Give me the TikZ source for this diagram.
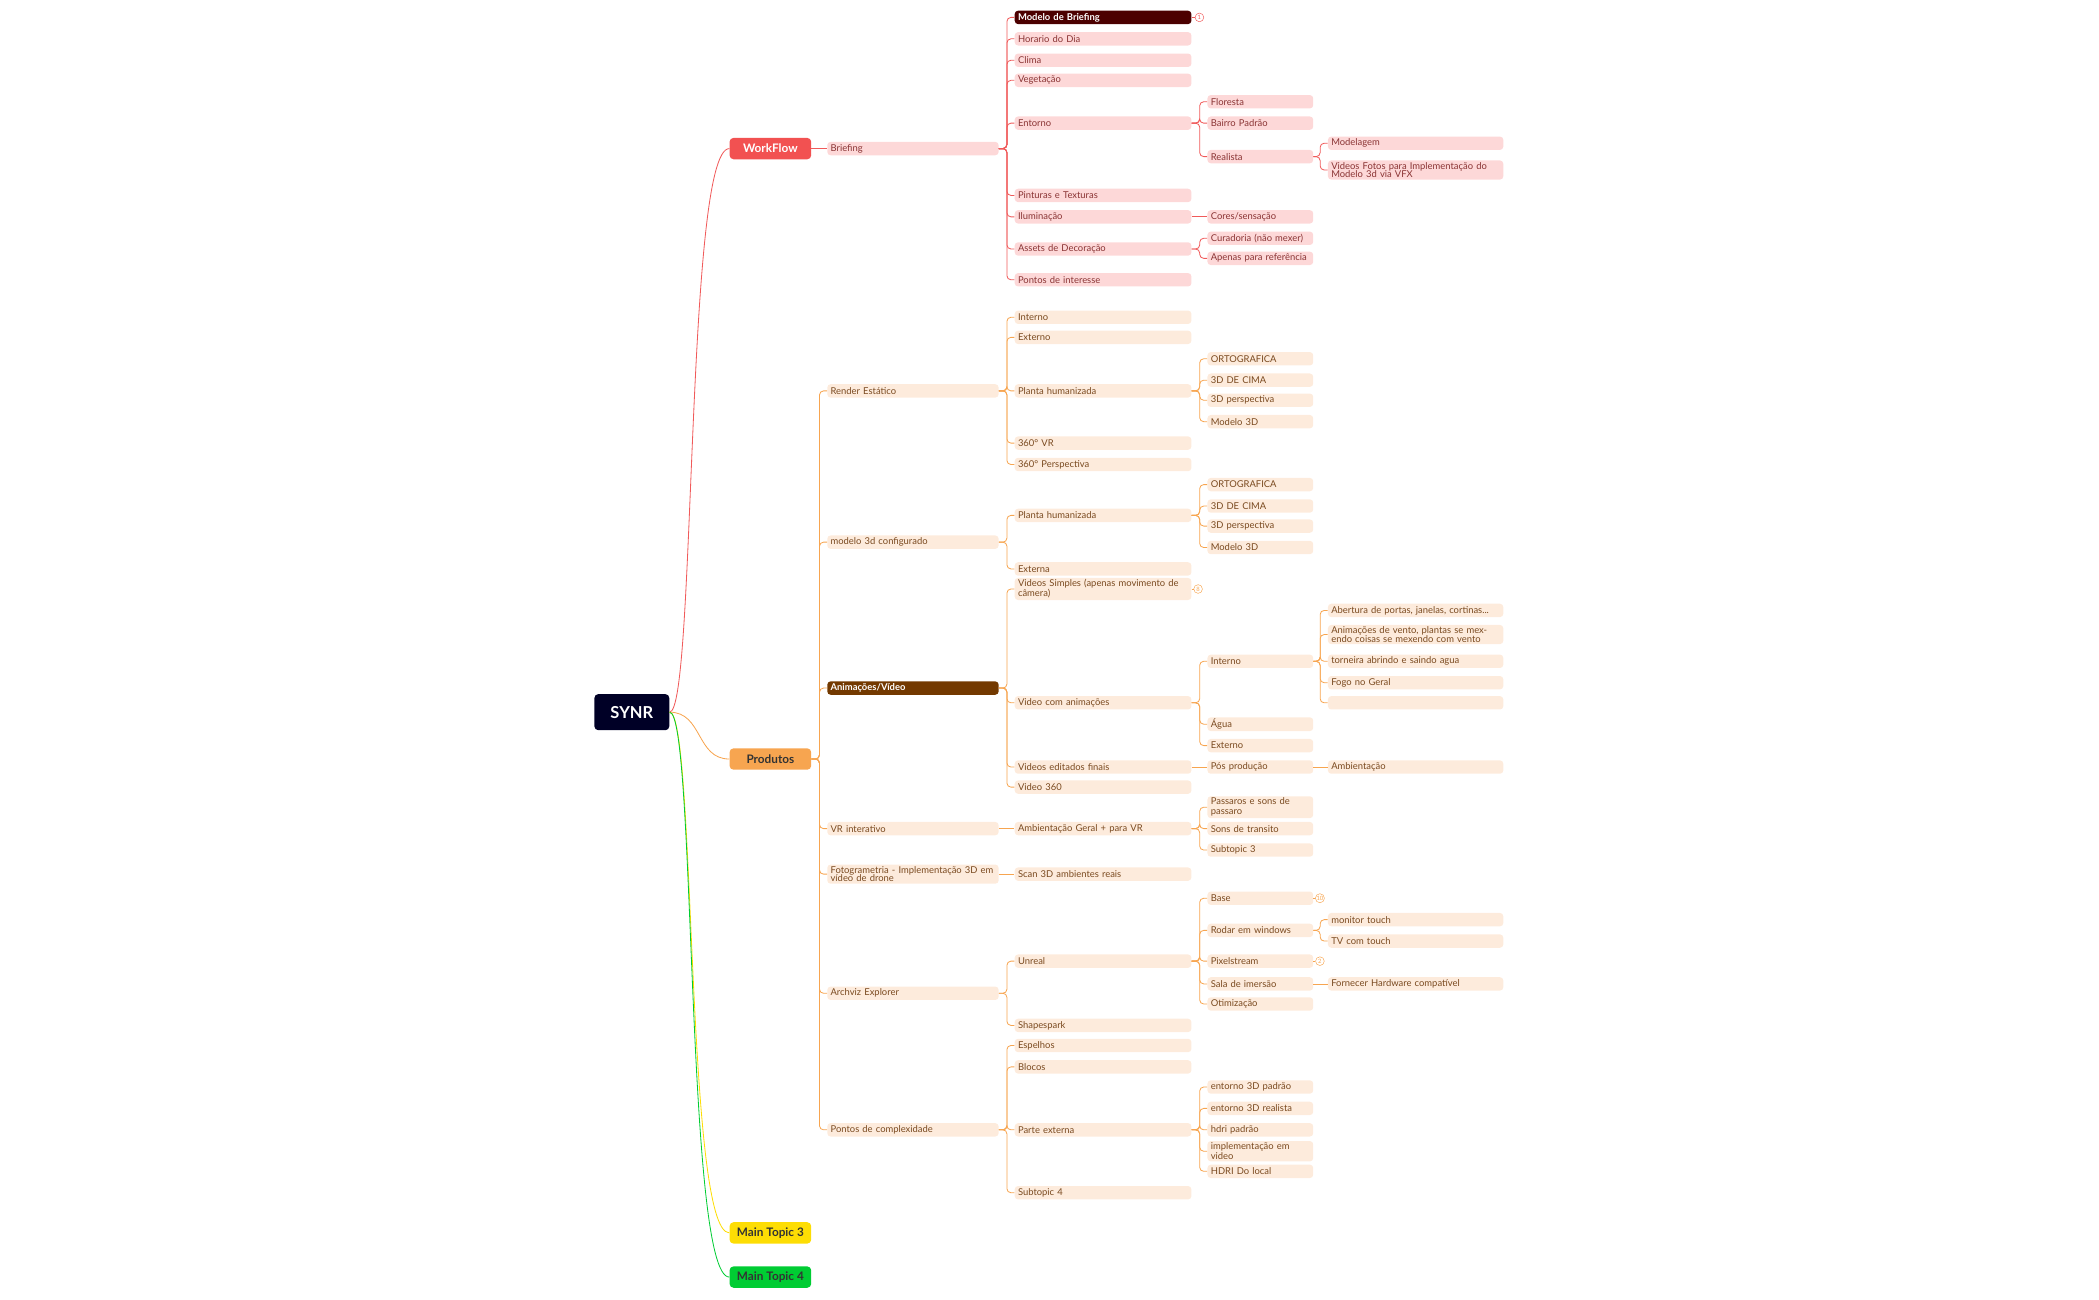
\documentclass[tikz,border=0pt]{standalone}
\usepackage{fontspec}
\setmainfont{Lato}
\definecolor{pinkf}{HTML}{FDD8D8}
\definecolor{redl}{HTML}{F05A5A}
\definecolor{redt}{HTML}{8A3434}
\definecolor{orgf}{HTML}{FDEBDC}
\definecolor{orgl}{HTML}{F7A550}
\definecolor{orgt}{HTML}{7A4A20}
\tikzset{
  box/.style={rounded corners=0.1cm, inner xsep=0.1cm, inner ysep=0.05cm, minimum height=0.4cm, align=left, font=\fontsize{8}{8.5}\selectfont},
  rb/.style={box, fill=pinkf, text=redt},
  ob/.style={box, fill=orgf, text=orgt},
  l2/.style={text width=4.92cm},
  l3/.style={text width=5.08cm},
  l4/.style={text width=2.96cm},
  l5/.style={text width=5.04cm},
  topic/.style={rounded corners=0.12cm, minimum width=2.44cm, minimum height=0.64cm, font=\fontsize{10}{11}\selectfont\bfseries},
  badge/.style={circle, draw, inner sep=0.3pt, minimum size=0.26cm, font=\fontsize{5}{5}\selectfont},
  rl/.style={draw=redl, line width=0.7pt, rounded corners=0.12cm},
  ol/.style={draw=orgl, line width=0.7pt, rounded corners=0.12cm},
}
\begin{document}
\begin{tikzpicture}[x=0.04cm, y=-0.04cm]
\useasboundingbox (0,0) rectangle (1568,971);
% main topics
\node[topic, fill=black!85!blue, text=white, minimum width=2.24cm, minimum height=1.08cm, font=\fontsize{14}{15}\selectfont\bfseries] (synr) at (472,532) {SYNR};
\node[topic, fill=redl!90!red, text=white] (work) at (575.5,111) {WorkFlow};
\node[topic, fill=orgl, text=black!80] (prod) at (575.5,567) {Produtos};
\node[topic, fill=yellow!80!orange, text=black!80] (mt3) at (575.5,921) {Main Topic 3};
\node[topic, fill=green!60!teal, text=black!80] (mt4) at (575.5,954) {Main Topic 4};
\draw[redl, line width=0.7pt] (synr.east) .. controls (520,532) and (512,111) .. (work.west);
\draw[orgl, line width=0.7pt] (synr.east) .. controls (525,532) and (520,567) .. (prod.west);
\draw[yellow!80!orange, line width=0.7pt] (synr.east) .. controls (520,532) and (512,921) .. (mt3.west);
\draw[green!60!teal, line width=0.7pt] (synr.east) .. controls (520,532) and (512,954) .. (mt4.west);

% WorkFlow branch
\node[rb, l2] (brief) at (682,111) {Briefing};
\node[rb, l3, fill=red!30!black, text=white, font=\fontsize{8}{8.5}\selectfont\bfseries] (modelo) at (824,13) {Modelo de Briefing};
\node[rb, l3] (hora) at (824,29) {Horario do Dia};
\node[rb, l3] (clima) at (824,45) {Clima};
\node[rb, l3] (veg) at (824,60) {Vegetação};
\node[rb, l3] (ent) at (824,92) {Entorno};
\node[rb, l3] (pint) at (824,146) {Pinturas e Texturas};
\node[rb, l3] (ilum) at (824,162) {Iluminação};
\node[rb, l3] (assets) at (824,186) {Assets de Decoração};
\node[rb, l3] (pontos) at (824,209) {Pontos de interesse};
\node[rb, l4] (flor) at (941.5,76) {Floresta};
\node[rb, l4] (bairro) at (941.5,92) {Bairro Padrão};
\node[rb, l4] (real) at (941.5,117) {Realista};
\node[rb, l4] (cores) at (941.5,162) {Cores/sensação};
\node[rb, l4] (cur) at (941.5,178) {Curadoria (não mexer)};
\node[rb, l4] (apen) at (941.5,193) {Apenas para referência};
\node[rb, l5] (modg) at (1057.5,107) {Modelagem};
\node[rb, l5, font=\fontsize{8}{7.5}\selectfont] (vfx) at (1057.5,127) {Videos Fotos para Implementação do Modelo 3d via VFX};
\node[badge, draw=redl, text=redl] (b1) at (896,13) {1};
\draw[rl] (work.east) -- (brief.west);
\draw[rl] (modelo.east) -- (b1.west);
\foreach \c in {modelo, hora, clima, veg, ent, pint, ilum, assets, pontos}
  \draw[rl] (brief.east) -- ++(6,0) |- (\c.west);
\foreach \c in {flor, bairro, real}
  \draw[rl] (ent.east) -- ++(6,0) |- (\c.west);
\foreach \c in {modg, vfx}
  \draw[rl] (real.east) -- ++(5,0) |- (\c.west);
\draw[rl] (ilum.east) -- (cores.west);
\foreach \c in {cur, apen}
  \draw[rl] (assets.east) -- ++(6,0) |- (\c.west);

% Produtos branch
\node[ob, l2] (render) at (682,292) {Render Estático};
\node[ob, l2] (mod3d) at (682,405) {modelo 3d configurado};
\node[ob, l2, fill=orange!45!black, text=white, font=\fontsize{8}{8.5}\selectfont\bfseries] (anim) at (682,514) {Animações/Vídeo};
\node[ob, l2] (vr) at (682,619) {VR interativo};
\node[ob, l2, font=\fontsize{8}{7.5}\selectfont] (foto) at (682,653) {Fotogrametria - Implementação 3D em vídeo de drone};
\node[ob, l2] (arch) at (682,742) {Archviz Explorer};
\node[ob, l2] (compl) at (682,844) {Pontos de complexidade};
\foreach \c in {render, mod3d, anim, vr, foto, arch, compl}
  \draw[ol] (prod.east) -- ++(6,0) |- (\c.west);

% Render Estatico
\node[ob, l3] (rint) at (824,237) {Interno};
\node[ob, l3] (rext) at (824,252) {Externo};
\node[ob, l3] (rplan) at (824,292) {Planta humanizada};
\node[ob, l3] (rvr) at (824,331) {360° VR};
\node[ob, l3] (rper) at (824,347) {360° Perspectiva};
\node[ob, l4] (po1) at (941.5,268) {ORTOGRAFICA};
\node[ob, l4] (po2) at (941.5,284) {3D DE CIMA};
\node[ob, l4] (po3) at (941.5,299) {3D perspectiva};
\node[ob, l4] (po4) at (941.5,315) {Modelo 3D};
\foreach \c in {rint, rext, rplan, rvr, rper}
  \draw[ol] (render.east) -- ++(6,0) |- (\c.west);
\foreach \c in {po1, po2, po3, po4}
  \draw[ol] (rplan.east) -- ++(6,0) |- (\c.west);

% modelo 3d configurado
\node[ob, l3] (mplan) at (824,385) {Planta humanizada};
\node[ob, l3] (mext) at (824,425) {Externa};
\node[ob, l4] (pm1) at (941.5,362) {ORTOGRAFICA};
\node[ob, l4] (pm2) at (941.5,378) {3D DE CIMA};
\node[ob, l4] (pm3) at (941.5,393) {3D perspectiva};
\node[ob, l4] (pm4) at (941.5,409) {Modelo 3D};
\foreach \c in {mplan, mext}
  \draw[ol] (mod3d.east) -- ++(6,0) |- (\c.west);
\foreach \c in {pm1, pm2, pm3, pm4}
  \draw[ol] (mplan.east) -- ++(6,0) |- (\c.west);

% Animacoes/Video
\node[ob, l3] (vsimp) at (824,440) {Videos Simples (apenas movimento de câmera)};
\node[ob, l3] (vanim) at (824,525) {Video com animações};
\node[ob, l3] (vedit) at (824,573) {Videos editados finais};
\node[ob, l3] (v360) at (824,588) {Video 360};
\node[badge, draw=orgl, text=orgl] (b8) at (895,440) {8};
\draw[ol] (vsimp.east) -- (b8.west);
\node[ob, l4] (aint) at (941.5,494) {Interno};
\node[ob, l4] (agua) at (941.5,541) {Água};
\node[ob, l4] (aext) at (941.5,557) {Externo};
\node[ob, l4] (pos) at (941.5,573) {Pós produção};
\node[ob, l5] (ab) at (1057.5,456) {Abertura de portas, janelas, cortinas...};
\node[ob, l5, font=\fontsize{8}{7.5}\selectfont] (vento) at (1057.5,474) {Animações de vento, plantas se mexendo coisas se mexendo com vento};
\node[ob, l5] (torn) at (1057.5,494) {torneira abrindo e saindo agua};
\node[ob, l5] (fogo) at (1057.5,510) {Fogo no Geral};
\node[ob, l5] (vazio) at (1057.5,525) {};
\node[ob, l5] (amb) at (1057.5,573) {Ambientação};
\foreach \c in {vsimp, vanim, vedit, v360}
  \draw[ol] (anim.east) -- ++(6,0) |- (\c.west);
\foreach \c in {aint, agua, aext}
  \draw[ol] (vanim.east) -- ++(6,0) |- (\c.west);
\foreach \c in {ab, vento, torn, fogo, vazio}
  \draw[ol] (aint.east) -- ++(5,0) |- (\c.west);
\draw[ol] (vedit.east) -- (pos.west);
\draw[ol] (pos.east) -- (amb.west);

% VR interativo
\node[ob, l3] (ambvr) at (824,619) {Ambientação Geral + para VR};
\node[ob, l4] (pass) at (941.5,603) {Passaros e sons de passaro};
\node[ob, l4] (sons) at (941.5,619) {Sons de transito};
\node[ob, l4] (sub3) at (941.5,635) {Subtopic 3};
\draw[ol] (vr.east) -- (ambvr.west);
\foreach \c in {pass, sons, sub3}
  \draw[ol] (ambvr.east) -- ++(6,0) |- (\c.west);

% Fotogrametria
\node[ob, l3] (scan) at (824,653) {Scan 3D ambientes reais};
\draw[ol] (foto.east) -- (scan.west);

% Archviz Explorer
\node[ob, l3] (unreal) at (824,718) {Unreal};
\node[ob, l3] (shape) at (824,766) {Shapespark};
\node[ob, l4] (base) at (941.5,671) {Base};
\node[ob, l4] (rodar) at (941.5,695) {Rodar em windows};
\node[ob, l4] (pixel) at (941.5,718) {Pixelstream};
\node[ob, l4] (sala) at (941.5,735) {Sala de imersão};
\node[ob, l4] (otim) at (941.5,750) {Otimização};
\node[badge, draw=orgl, text=orgl] (b10) at (986,671) {10};
\node[badge, draw=orgl, text=orgl] (b2) at (986,718) {2};
\node[ob, l5] (mon) at (1057.5,687) {monitor touch};
\node[ob, l5] (tv) at (1057.5,703) {TV com touch};
\node[ob, l5] (forn) at (1057.5,735) {Fornecer Hardware compatível};
\foreach \c in {unreal, shape}
  \draw[ol] (arch.east) -- ++(6,0) |- (\c.west);
\foreach \c in {base, rodar, pixel, sala, otim}
  \draw[ol] (unreal.east) -- ++(6,0) |- (\c.west);
\draw[ol] (base.east) -- (b10.west);
\draw[ol] (pixel.east) -- (b2.west);
\foreach \c in {mon, tv}
  \draw[ol] (rodar.east) -- ++(5,0) |- (\c.west);
\draw[ol] (sala.east) -- (forn.west);

% Pontos de complexidade
\node[ob, l3] (esp) at (824,781) {Espelhos};
\node[ob, l3] (bloc) at (824,797) {Blocos};
\node[ob, l3] (pext) at (824,844) {Parte externa};
\node[ob, l3] (sub4) at (824,891) {Subtopic 4};
\node[ob, l4] (e1) at (941.5,812) {entorno 3D padrão};
\node[ob, l4] (e2) at (941.5,828) {entorno 3D realista};
\node[ob, l4] (e3) at (941.5,844) {hdri padrão};
\node[ob, l4] (e4) at (941.5,860) {implementação em video};
\node[ob, l4] (e5) at (941.5,875) {HDRI Do local};
\foreach \c in {esp, bloc, pext, sub4}
  \draw[ol] (compl.east) -- ++(6,0) |- (\c.west);
\foreach \c in {e1, e2, e3, e4, e5}
  \draw[ol] (pext.east) -- ++(6,0) |- (\c.west);
\end{tikzpicture}
\end{document}
